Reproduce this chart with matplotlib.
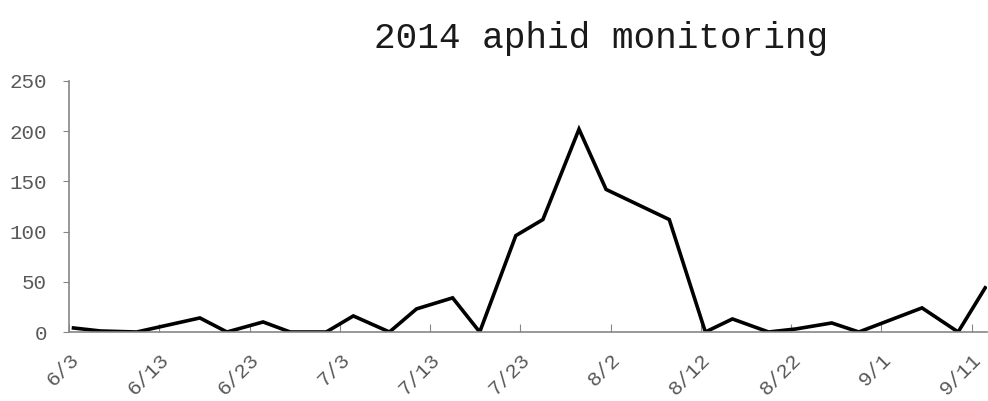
import matplotlib
matplotlib.use("Agg")
import matplotlib.pyplot as plt
import matplotlib.transforms as mtransforms
import numpy as np

# Data: sampling dates (month, day) and aphid counts
dates = ["6/3", "6/6", "6/10", "6/17", "6/20", "6/24", "6/27", "7/1", "7/4", "7/8",
         "7/11", "7/15", "7/18", "7/22", "7/25", "7/29", "8/1", "8/8", "8/12", "8/15",
         "8/19", "8/22", "8/26", "8/29", "9/5", "9/9", "9/12"]
counts = [4, 1, 0, 14, 0, 10, 0, 0, 16, 0,
          23, 34, 0, 96, 112, 202, 142, 112, 0, 13,
          0, 3, 9, 0, 24, 0, 44]
tick_labels = ["6/3", "6/13", "6/23", "7/3", "7/13", "7/23", "8/2", "8/12", "8/22", "9/1", "9/11"]
title = "2014 aphid monitoring"

month_start = {6: 0, 7: 30, 8: 61, 9: 92}  # day offsets from 6/1
def to_day(s):
    m, d = s.split("/")
    return month_start[int(m)] + int(d) - 3  # days since 6/3

x = np.array([to_day(s) for s in dates])
tick_pos = np.array([to_day(s) for s in tick_labels]) - 0.5

font = "Liberation Mono"
fig = plt.figure(figsize=(9.88, 4.01), dpi=100)
ax = fig.add_axes([69/988, 1-332/401, (987-69)/988, (332-81)/401])
ax.plot(x, counts, color="black", lw=2.6, solid_joinstyle="miter")
ax.set_xlim(-0.5, 101.2)
ax.set_ylim(0, 250)
ax.set_yticks([0, 50, 100, 150, 200, 250])
ax.set_xticks(tick_pos)
ax.set_xticklabels(tick_labels, rotation=45, ha="right", rotation_mode="anchor",
                   fontfamily=font, fontsize=15, color="#595959")
offset = mtransforms.ScaledTranslation(8/100, 0, fig.dpi_scale_trans)
for lab in ax.get_xticklabels():
    lab.set_transform(lab.get_transform() + offset)
for lab in ax.get_yticklabels():
    lab.set_fontfamily(font)
    lab.set_fontsize(15)
    lab.set_color("#595959")
for s in ["top", "right"]:
    ax.spines[s].set_visible(False)
for s in ["left", "bottom"]:
    ax.spines[s].set_color("#868686")
    ax.spines[s].set_linewidth(1.2)
ax.tick_params(axis="y", direction="out", length=4, color="#868686", pad=12)
ax.tick_params(axis="x", direction="in", length=6, color="#868686", pad=13)
fig.text(0.608, 0.905, title, ha="center", va="center", fontfamily=font, fontsize=26, color="#1a1a1a")
fig.savefig("out.png", dpi=100)
